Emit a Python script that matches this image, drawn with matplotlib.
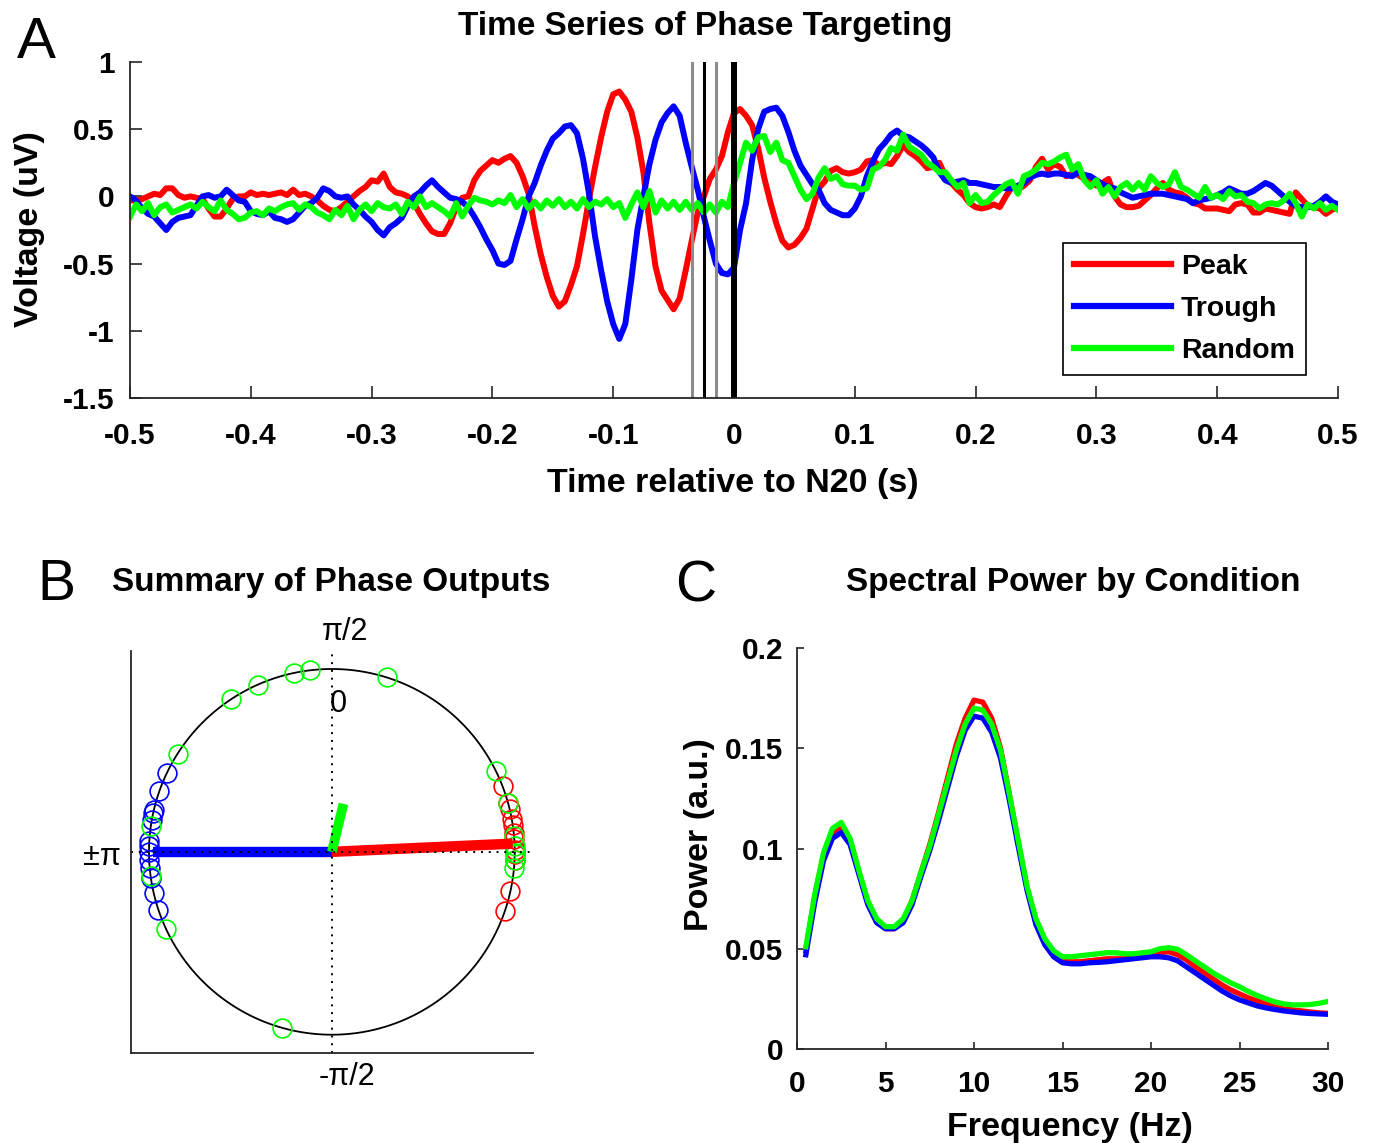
import numpy as np
import matplotlib
matplotlib.use("Agg")
import matplotlib.pyplot as plt

plt.rcParams['font.family'] = ['Liberation Sans', 'DejaVu Sans']
plt.rcParams['axes.unicode_minus'] = False

# ---------------- data ----------------
# panel A: averaged traces, 5 ms steps from -0.5 to 0.5 s
time_step = 0.005
peak_trace = [
    -0.03, -0.03, -0.02, 0.00, 0.02, 0.01, 0.06, 0.06, 0.01, -0.01,
    0.00, -0.01, -0.02, -0.09, -0.15, -0.15, -0.09, -0.02, 0.00, 0.00,
    0.03, 0.01, 0.02, 0.01, 0.02, 0.03, 0.01, 0.05, 0.01, 0.02,
    0.00, -0.03, -0.07, -0.10, -0.11, -0.08, -0.04, 0.00, 0.04, 0.07,
    0.12, 0.11, 0.17, 0.07, 0.03, 0.02, 0.00, -0.05, -0.13, -0.20,
    -0.26, -0.28, -0.28, -0.20, -0.08, -0.01, 0.00, 0.12, 0.19, 0.23,
    0.27, 0.25, 0.28, 0.30, 0.25, 0.15, 0.02, -0.22, -0.43, -0.60,
    -0.74, -0.82, -0.78, -0.66, -0.52, -0.28, -0.02, 0.22, 0.44, 0.63,
    0.76, 0.78, 0.72, 0.63, 0.44, 0.18, -0.20, -0.52, -0.70, -0.77,
    -0.84, -0.76, -0.55, -0.33, -0.12, 0.00, 0.13, 0.20, 0.30, 0.48,
    0.62,
    0.65, 0.60, 0.53, 0.36, 0.14, -0.04, -0.20, -0.33, -0.38, -0.36,
    -0.31, -0.24, -0.09, 0.06, 0.11, 0.19, 0.21, 0.18, 0.17, 0.18,
    0.20, 0.26, 0.27, 0.23, 0.25, 0.24, 0.30, 0.38, 0.33, 0.30,
    0.26, 0.21, 0.22, 0.25, 0.15, 0.10, 0.05, 0.01, -0.05, -0.08,
    -0.09, -0.08, -0.06, -0.08, 0.00, 0.07, 0.05, 0.08, 0.12, 0.22,
    0.28, 0.20, 0.24, 0.22, 0.15, 0.17, 0.16, 0.13, 0.12, 0.08,
    0.10, 0.13, 0.00, -0.06, -0.08, -0.08, -0.07, -0.03, 0.01, 0.06,
    0.10, 0.05, 0.03, 0.02, -0.01, -0.05, -0.06, -0.09, -0.09, -0.09,
    -0.10, -0.11, -0.06, -0.05, -0.06, -0.12, -0.12, -0.09, -0.10, -0.11,
    -0.12, -0.13, 0.03, -0.02, -0.07, -0.08, -0.09, -0.13, -0.10, -0.08,
]
trough_trace = [
    0.00, -0.03, -0.09, -0.13, -0.15, -0.20, -0.25, -0.19, -0.16, -0.15,
    -0.14, -0.07, 0.00, 0.01, -0.01, 0.00, 0.05, 0.01, -0.03, -0.04,
    -0.11, -0.13, -0.14, -0.11, -0.16, -0.17, -0.19, -0.17, -0.12, -0.07,
    -0.05, -0.01, 0.06, 0.04, 0.00, -0.01, 0.00, -0.06, -0.10, -0.15,
    -0.19, -0.25, -0.29, -0.23, -0.20, -0.16, -0.07, 0.00, 0.03, 0.08,
    0.12, 0.07, 0.03, -0.01, -0.02, -0.04, -0.08, -0.15, -0.23, -0.32,
    -0.40, -0.50, -0.51, -0.48, -0.32, -0.17, 0.00, 0.10, 0.23, 0.34,
    0.43, 0.47, 0.52, 0.53, 0.47, 0.28, 0.02, -0.30, -0.55, -0.78,
    -0.95, -1.06, -0.95, -0.62, -0.25, 0.00, 0.24, 0.42, 0.55, 0.62,
    0.67, 0.60, 0.40, 0.22, 0.05, -0.15, -0.33, -0.50, -0.57, -0.58,
    -0.53,
    -0.25, -0.05, 0.27, 0.50, 0.63, 0.65, 0.66, 0.60, 0.48, 0.34,
    0.23, 0.16, 0.09, 0.05, -0.05, -0.10, -0.12, -0.14, -0.14, -0.09,
    0.00, 0.15, 0.26, 0.35, 0.40, 0.46, 0.49, 0.45, 0.44, 0.41,
    0.38, 0.34, 0.29, 0.18, 0.12, 0.10, 0.11, 0.12, 0.10, 0.10,
    0.09, 0.08, 0.07, 0.07, 0.06, 0.06, 0.08, 0.10, 0.14, 0.16,
    0.17, 0.16, 0.17, 0.17, 0.16, 0.15, 0.18, 0.16, 0.15, 0.12,
    0.09, 0.07, 0.06, 0.03, 0.01, -0.01, 0.00, 0.01, 0.02, 0.02,
    0.02, 0.01, 0.00, -0.01, -0.02, -0.05, -0.03, -0.02, -0.01, 0.01,
    0.03, 0.06, 0.04, 0.02, 0.02, 0.04, 0.07, 0.10, 0.08, 0.04,
    0.00, -0.04, -0.07, -0.08, -0.08, -0.07, -0.04, 0.00, -0.04, -0.06,
]
random_trace = [
    -0.15, -0.06, -0.11, -0.05, -0.14, -0.08, -0.06, -0.12, -0.10, -0.08,
    -0.06, -0.09, -0.04, -0.08, -0.11, -0.03, -0.10, -0.13, -0.17, -0.16,
    -0.12, -0.11, -0.14, -0.09, -0.11, -0.08, -0.06, -0.05, -0.10, -0.06,
    -0.08, -0.12, -0.14, -0.17, -0.10, -0.14, -0.07, -0.17, -0.10, -0.06,
    -0.11, -0.05, -0.08, -0.09, -0.06, -0.13, -0.04, -0.08, 0.00, -0.08,
    -0.05, -0.08, -0.11, -0.15, -0.05, -0.15, -0.07, -0.01, -0.03, -0.04,
    -0.06, -0.03, -0.05, 0.01, -0.08, -0.02, -0.09, -0.04, -0.09, -0.03,
    -0.07, -0.02, -0.08, -0.04, -0.09, -0.02, -0.08, -0.04, -0.06, -0.02,
    -0.08, -0.05, -0.16, -0.06, 0.03, -0.08, 0.04, -0.12, -0.03, -0.09,
    -0.04, -0.10, -0.04, -0.10, -0.05, -0.12, -0.06, -0.12, -0.04, -0.08,
    0.10,
    0.25, 0.40, 0.34, 0.44, 0.45, 0.33, 0.40, 0.27, 0.25, 0.15,
    0.05, -0.02, 0.02, 0.14, 0.21, 0.13, 0.15, 0.09, 0.08, 0.08,
    0.05, 0.06, 0.20, 0.22, 0.27, 0.36, 0.34, 0.46, 0.37, 0.34,
    0.31, 0.25, 0.22, 0.18, 0.18, 0.12, 0.07, 0.10, -0.05, 0.01,
    -0.05, -0.04, 0.01, 0.05, 0.09, 0.11, 0.02, 0.15, 0.17, 0.20,
    0.25, 0.24, 0.26, 0.29, 0.31, 0.20, 0.24, 0.12, 0.07, 0.12,
    0.02, 0.07, 0.00, 0.07, 0.10, 0.05, 0.10, 0.05, 0.15, 0.10,
    0.07, 0.09, 0.18, 0.07, 0.05, 0.02, -0.01, 0.07, -0.01, 0.01,
    -0.02, 0.04, 0.00, 0.01, -0.04, -0.05, -0.09, -0.06, -0.05, -0.06,
    -0.03, 0.02, -0.05, -0.15, -0.06, -0.09, -0.05, -0.10, -0.07, -0.10,
]
marker_times = [-0.035, -0.025, -0.015, 0.0]
marker_colors = ['#8c8c8c', 'black', '#8c8c8c', 'black']
marker_widths = [2.2, 2.2, 2.2, 4.3]

# panel B: phases (degrees) of individual outputs and mean vectors
peak_phases = [21, 15.5, 13.4, 10.2, 8.6, 6, 3.9, 0.7, -0.8, -2.4, -12.4, -19]
trough_phases = [154.3, 160.6, 166.8, 167.6, 170, 176.7, 178.2, 180,
                 -177.6, -175, -171.8, -167, -161.5]
random_phases = [123.3, 113.8, 102.1, 96.8, 72.6, 147.5, 26.2, 15.6, 171.9,
                 4.9, 1.8, -0.3, -2.4, -5.0, -172.4, -154.9, -105.9]
mean_angle = {'Peak': 2.6, 'Trough': 180.0, 'Random': 76.4}
mean_length = {'Peak': 0.99, 'Trough': 0.98, 'Random': 0.27}

# panel C: spectra, 0.5 Hz steps from 0.5 to 30 Hz
freq_step = 0.5
peak_power = [
    0.049, 0.076, 0.097, 0.108, 0.111, 0.104, 0.088, 0.073, 0.064, 0.060,
    0.060, 0.064, 0.074, 0.088, 0.102, 0.118, 0.135, 0.152, 0.165, 0.174,
    0.173, 0.165, 0.150, 0.127, 0.103, 0.080, 0.063, 0.053, 0.047, 0.044,
    0.0435, 0.0435, 0.044, 0.0445, 0.045, 0.045, 0.045, 0.0455, 0.046, 0.047,
    0.048, 0.0485, 0.047, 0.0445, 0.041, 0.038, 0.035, 0.032, 0.0295, 0.0275,
    0.0255, 0.024, 0.0225, 0.021, 0.020, 0.0195, 0.019, 0.0185, 0.018, 0.0178,
]
trough_power = [
    0.047, 0.073, 0.094, 0.105, 0.108, 0.102, 0.087, 0.072, 0.063, 0.060,
    0.060, 0.063, 0.072, 0.086, 0.099, 0.114, 0.130, 0.146, 0.159, 0.166,
    0.165, 0.158, 0.145, 0.124, 0.101, 0.079, 0.062, 0.052, 0.046, 0.043,
    0.0425, 0.0425, 0.043, 0.0432, 0.0435, 0.044, 0.0445, 0.045, 0.0455, 0.046,
    0.046, 0.0455, 0.044, 0.041, 0.038, 0.035, 0.032, 0.029, 0.0265, 0.0245,
    0.023, 0.0215, 0.0205, 0.0197, 0.019, 0.0185, 0.018, 0.0177, 0.0175, 0.0173,
]
random_power = [
    0.051, 0.077, 0.098, 0.110, 0.113, 0.105, 0.089, 0.074, 0.065, 0.061,
    0.061, 0.065, 0.074, 0.088, 0.101, 0.117, 0.133, 0.149, 0.162, 0.170,
    0.169, 0.162, 0.149, 0.127, 0.104, 0.081, 0.065, 0.055, 0.049, 0.046,
    0.046, 0.0465, 0.047, 0.0475, 0.048, 0.048, 0.0475, 0.0475, 0.048, 0.0485,
    0.050, 0.0505, 0.0498, 0.047, 0.044, 0.041, 0.038, 0.0355, 0.033, 0.031,
    0.0287, 0.0267, 0.025, 0.0235, 0.0225, 0.022, 0.022, 0.0222, 0.0228, 0.0237,
]

conditions = ['Peak', 'Trough', 'Random']
colors = {'Peak': '#ff0000', 'Trough': '#0000ff', 'Random': '#00ff00'}

# ---------------- figure ----------------
W, H = 1377, 1143
fig = plt.figure(figsize=(W / 100, H / 100), dpi=100)


def fx(px):
    return px / W


def fy(py):
    return 1 - py / H


def box(left, top, right, bottom):
    return [fx(left), fy(bottom), (right - left) / W, (bottom - top) / H]


spine_c = '#262626'
TICK_FS = 21.5
LABEL_FS = 24.5
TITLE_FS = 24

# ---- panel A ----
axA = fig.add_axes(box(130, 62, 1338, 398))
traces = {'Peak': peak_trace, 'Trough': trough_trace, 'Random': random_trace}
for cond in conditions:
    y = np.array(traces[cond])
    t = -0.5 + time_step * np.arange(len(y))
    axA.plot(t, y, color=colors[cond], lw=4.3, label=cond, solid_joinstyle='round')
for tm, c, w in zip(marker_times, marker_colors, marker_widths):
    axA.axvline(tm, color=c, lw=w)
axA.set_xlim(-0.5, 0.5)
axA.set_ylim(-1.5, 1)
xt = np.round(np.arange(-0.5, 0.51, 0.1), 1)
axA.set_xticks(xt)
axA.set_xticklabels(['0' if v == 0 else ('%g' % v) for v in xt])
yt = [-1.5, -1, -0.5, 0, 0.5, 1]
axA.set_yticks(yt)
axA.set_yticklabels(['%g' % v for v in yt])
for s in ['top', 'right']:
    axA.spines[s].set_visible(False)
for s in ['left', 'bottom']:
    axA.spines[s].set_color(spine_c)
    axA.spines[s].set_linewidth(1.3)
axA.tick_params(direction='in', length=8.5, width=1.2, color=spine_c,
                labelsize=TICK_FS)
axA.tick_params(axis='x', pad=17)
axA.tick_params(axis='y', pad=11)
for lab in axA.get_xticklabels() + axA.get_yticklabels():
    lab.set_fontweight('bold')
leg = axA.legend(loc='lower right', bbox_to_anchor=(0.9735, 0.068),
                 borderaxespad=0, fancybox=False, framealpha=1,
                 edgecolor='black', handlelength=3.4, handletextpad=0.35,
                 labelspacing=0.55, borderpad=0.4,
                 prop={'weight': 'bold', 'size': 20.5})
leg.get_frame().set_linewidth(1.2)
for ln in leg.get_lines():
    ln.set_linewidth(4.5)

fig.text(fx(36), fy(58), 'A', fontsize=42, ha='center', va='baseline')
fig.text(fx(705), fy(35), 'Time Series of Phase Targeting', fontsize=TITLE_FS,
         fontweight='bold', ha='center', va='baseline')
fig.text(fx(733), fy(492), 'Time relative to N20 (s)', fontsize=LABEL_FS,
         fontweight='bold', ha='center', va='baseline')
fig.text(fx(30), fy(229), 'Voltage (uV)', fontsize=LABEL_FS, fontweight='bold',
         ha='center', va='center', rotation=90)

# ---- panel B ----
axB = fig.add_axes(box(130.7, 650.7, 533, 1053))
theta = np.linspace(0, 2 * np.pi, 400)
axB.plot(np.cos(theta), np.sin(theta), color='black', lw=1.3)
phases = {'Peak': peak_phases, 'Trough': trough_phases, 'Random': random_phases}
for cond in ['Trough', 'Peak', 'Random']:
    a = np.deg2rad(phases[cond])
    axB.plot(np.cos(a), np.sin(a), 'o', ms=13.5, mfc='none', mec=colors[cond],
             mew=1.2)
for cond, lw in zip(['Trough', 'Peak', 'Random'], [7.5, 7.5, 7.0]):
    a = np.deg2rad(mean_angle[cond])
    r = mean_length[cond]
    axB.plot([0, r * np.cos(a)], [0, r * np.sin(a)], color=colors[cond], lw=lw,
             solid_capstyle='butt')
axB.axhline(0, color='black', lw=1.4, ls=(0, (1, 3)))
axB.axvline(0, color='black', lw=1.4, ls=(0, (1, 3)))
axB.set_xlim(-1.1, 1.1)
axB.set_ylim(-1.1, 1.1)
axB.set_xticks([])
axB.set_yticks([])
for s in ['top', 'right']:
    axB.spines[s].set_visible(False)
for s in ['left', 'bottom']:
    axB.spines[s].set_color(spine_c)
    axB.spines[s].set_linewidth(1.3)
axB.text(0.07, 1.20, 'π/2', fontsize=22, ha='center', va='center', clip_on=False)
axB.text(0.035, 0.81, '0', fontsize=22, ha='center', va='center')
axB.text(-1.26, -0.03, '±π', fontsize=22, ha='center', va='center', clip_on=False)
axB.text(0.08, -1.23, '-π/2', fontsize=22, ha='center', va='center', clip_on=False)

fig.text(fx(56), fy(600), 'B', fontsize=41, ha='center', va='baseline')
fig.text(fx(331), fy(591), 'Summary of Phase Outputs', fontsize=TITLE_FS,
         fontweight='bold', ha='center', va='baseline')

# ---- panel C ----
axC = fig.add_axes(box(797, 648, 1328, 1049))
spectra = {'Peak': peak_power, 'Trough': trough_power, 'Random': random_power}
for cond in conditions:
    p = np.array(spectra[cond])
    f = freq_step * (1 + np.arange(len(p)))
    axC.plot(f, p, color=colors[cond], lw=3.8)
axC.set_xlim(0, 30)
axC.set_ylim(0, 0.2)
axC.set_xticks(range(0, 31, 5))
axC.set_xticklabels([str(v) for v in range(0, 31, 5)])
ytc = [0, 0.05, 0.1, 0.15, 0.2]
axC.set_yticks(ytc)
axC.set_yticklabels(['%g' % v for v in ytc])
for s in ['top', 'right']:
    axC.spines[s].set_visible(False)
for s in ['left', 'bottom']:
    axC.spines[s].set_color(spine_c)
    axC.spines[s].set_linewidth(1.3)
axC.tick_params(direction='in', length=5, width=1.2, color=spine_c,
                labelsize=TICK_FS)
axC.tick_params(axis='x', pad=15)
axC.tick_params(axis='y', pad=10)
for lab in axC.get_xticklabels() + axC.get_yticklabels():
    lab.set_fontweight('bold')

fig.text(fx(696), fy(602), 'C', fontsize=41, ha='center', va='baseline')
fig.text(fx(1073), fy(591), 'Spectral Power by Condition', fontsize=TITLE_FS,
         fontweight='bold', ha='center', va='baseline')
fig.text(fx(1070), fy(1136), 'Frequency (Hz)', fontsize=LABEL_FS,
         fontweight='bold', ha='center', va='baseline')
fig.text(fx(700), fy(835), 'Power (a.u.)', fontsize=LABEL_FS, fontweight='bold',
         ha='center', va='center', rotation=90)

fig.savefig('out.png', dpi=100)
